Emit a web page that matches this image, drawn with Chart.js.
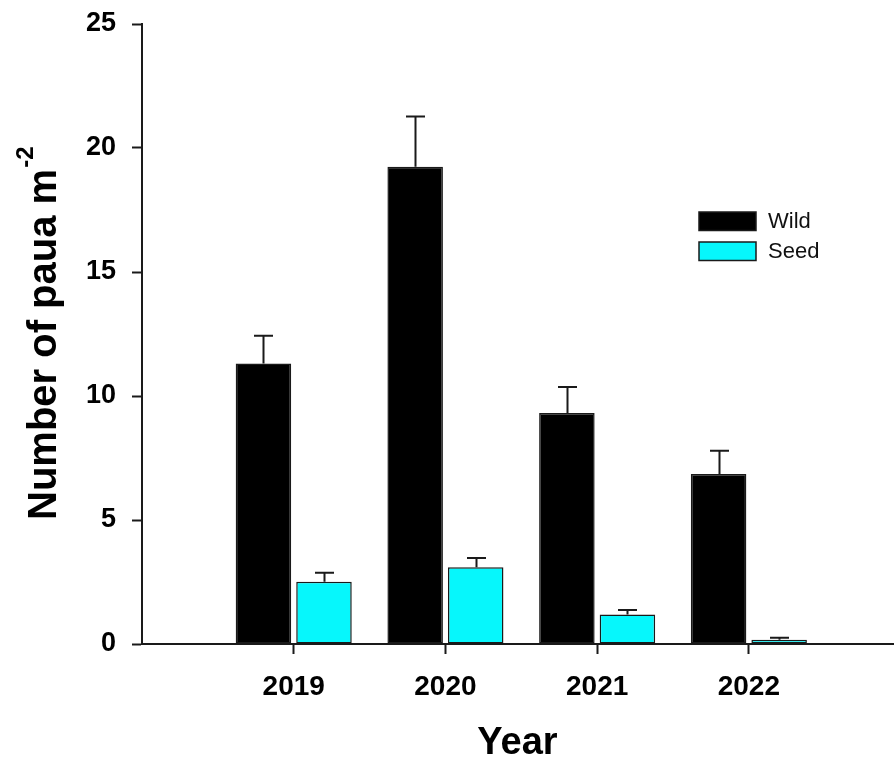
<!DOCTYPE html>
<html>
<head>
<meta charset="utf-8">
<title>Paua density by year</title>
<script src="https://cdn.jsdelivr.net/npm/chart.js@4.4.1/dist/chart.umd.min.js"></script>
<style>
  html, body { margin: 0; padding: 0; background: #ffffff; }
  #wrap { width: 894px; height: 763px; }
</style>
</head>
<body>
<div id="wrap"><canvas id="chart" width="894" height="763"></canvas></div>
<script>
// Survey years and mean density (± standard error) of wild and seeded paua
const years = [2019, 2020, 2021, 2022];
const wildMean = [11.31, 19.24, 9.31, 6.85];
const wildSE = [1.12, 2.03, 1.05, 0.94];
const seedMean = [2.51, 3.09, 1.19, 0.17];
const seedSE = [0.36, 0.38, 0.18, 0.08];
const yTickValues = [0, 5, 10, 15, 20, 25];

const FONT = "'Liberation Sans', Arial, Helvetica, sans-serif";
const INK = '#1a1a1a';
const WILD_COLOR = '#000000';
const SEED_COLOR = '#06f7fc';

Chart.defaults.font.family = FONT;
Chart.defaults.color = '#000';

// Upward-only standard error whiskers drawn above each bar
const errorBars = {
  id: 'errorBars',
  afterDatasetsDraw(chart) {
    const ctx = chart.ctx;
    const yScale = chart.scales.y;
    ctx.save();
    ctx.strokeStyle = INK;
    ctx.lineWidth = 2;
    chart.data.datasets.forEach((ds, di) => {
      const meta = chart.getDatasetMeta(di);
      meta.data.forEach((bar, j) => {
        const mean = ds.data[j].y;
        const top = yScale.getPixelForValue(mean + ds.errors[j]);
        const x = Math.round(bar.x) + 0.5;
        ctx.beginPath();
        ctx.moveTo(x, bar.y);
        ctx.lineTo(x, top);
        ctx.moveTo(x - 9.5, top);
        ctx.lineTo(x + 9.5, top);
        ctx.stroke();
      });
    });
    ctx.restore();
  }
};

// Boxed legend placed inside the plot area
const boxLegend = {
  id: 'boxLegend',
  afterDraw(chart) {
    const ctx = chart.ctx;
    ctx.save();
    ctx.font = '22px ' + FONT;
    ctx.textBaseline = 'middle';
    ctx.textAlign = 'left';
    const rows = [212, 242];
    chart.data.datasets.forEach((ds, i) => {
      const y = rows[i];
      ctx.fillStyle = ds.backgroundColor;
      ctx.fillRect(699, y, 57, 18.5);
      ctx.strokeStyle = INK;
      ctx.lineWidth = 1.5;
      ctx.strokeRect(699, y, 57, 18.5);
      ctx.fillStyle = '#111';
      ctx.fillText(ds.label, 768, y + 10);
    });
    ctx.restore();
  }
};

// Vertical axis title with a superscript unit exponent
const yAxisTitle = {
  id: 'yAxisTitle',
  afterDraw(chart) {
    const ctx = chart.ctx;
    ctx.save();
    ctx.translate(56, 520);
    ctx.rotate(-Math.PI / 2);
    ctx.fillStyle = '#000';
    ctx.textAlign = 'left';
    ctx.textBaseline = 'alphabetic';
    ctx.font = 'bold 40px ' + FONT;
    const main = 'Number of paua m';
    ctx.fillText(main, 0, 0);
    const w = ctx.measureText(main).width;
    ctx.font = 'bold 24px ' + FONT;
    ctx.fillText('-2', w + 1, -23);
    ctx.restore();
  }
};

new Chart(document.getElementById('chart'), {
  type: 'bar',
  data: {
    datasets: [
      {
        label: 'Wild',
        data: years.map((yr, i) => ({ x: yr, y: wildMean[i] })),
        errors: wildSE,
        backgroundColor: WILD_COLOR,
        borderColor: INK,
        borderWidth: 1.5,
        borderSkipped: false
      },
      {
        label: 'Seed',
        data: years.map((yr, i) => ({ x: yr, y: seedMean[i] })),
        errors: seedSE,
        backgroundColor: SEED_COLOR,
        borderColor: INK,
        borderWidth: 1.5,
        borderSkipped: false
      }
    ]
  },
  options: {
    responsive: false,
    animation: false,
    devicePixelRatio: 1,
    categoryPercentage: 0.798,
    barPercentage: 0.917,
    layout: { padding: { top: 24, right: 1, left: 0, bottom: 0 } },
    plugins: {
      legend: { display: false },
      tooltip: { enabled: false }
    },
    scales: {
      x: {
        type: 'linear',
        min: 2018,
        max: 2022.95,
        offset: false,
        afterBuildTicks(scale) {
          scale.ticks = years.map(v => ({ value: v }));
        },
        afterFit(scale) {
          scale.height = 119;
          scale.paddingLeft = 0;
          scale.paddingRight = 0;
        },
        grid: {
          offset: false,
          drawOnChartArea: false,
          drawTicks: true,
          tickLength: 10,
          tickWidth: 2,
          tickColor: INK
        },
        border: { display: true, color: INK, width: 2 },
        ticks: {
          padding: 16,
          autoSkip: false,
          maxRotation: 0,
          color: '#000',
          font: { size: 28, weight: 'bold' },
          callback: v => String(v)
        },
        title: {
          display: true,
          text: 'Year',
          color: '#000',
          font: { size: 38, weight: 'bold', lineHeight: 1.05 },
          padding: { top: 0, bottom: 0 }
        }
      },
      y: {
        min: 0,
        max: 25,
        afterBuildTicks(scale) {
          scale.ticks = yTickValues.map(v => ({ value: v }));
        },
        afterFit(scale) {
          scale.width = 142;
          scale.paddingTop = 0;
          scale.paddingBottom = 0;
        },
        grid: {
          drawOnChartArea: false,
          drawTicks: true,
          tickLength: 10,
          tickWidth: 2,
          tickColor: INK
        },
        border: { display: true, color: INK, width: 2 },
        ticks: {
          padding: 16,
          color: '#000',
          font: { size: 27, weight: 'bold' }
        }
      }
    }
  },
  plugins: [errorBars, boxLegend, yAxisTitle]
});
</script>
</body>
</html>
